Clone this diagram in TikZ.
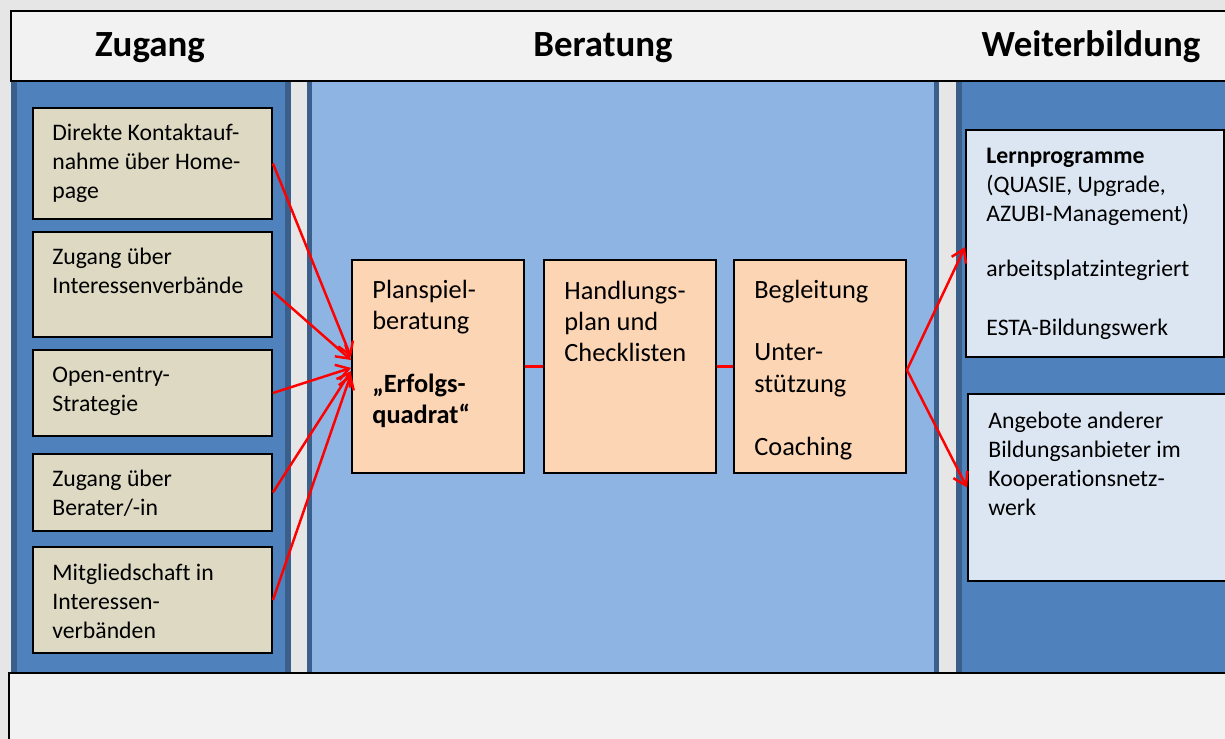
\documentclass[tikz,border=0pt]{standalone}
\usepackage{fontspec}
\setmainfont{Carlito}[Ligatures=NoCommon]
\usetikzlibrary{arrows.meta,fit,calc}
\definecolor{texgrey}{HTML}{E6E6E6}
\definecolor{headgrey}{HTML}{F2F2F2}
\definecolor{darkcol}{HTML}{4F81BD}
\definecolor{lightcol}{HTML}{8EB4E3}
\definecolor{colline}{HTML}{3A5F8B}
\definecolor{zugbox}{HTML}{DDD9C3}
\definecolor{berbox}{HTML}{FCD5B5}
\definecolor{weibox}{HTML}{DCE6F2}

\begin{document}
\begin{tikzpicture}[x=0.02cm, y=-0.02cm,
  colbar/.style={draw=colline, line width=0.11cm},
  headbar/.style={fill=headgrey, draw=black, line width=1.1pt},
  zbox/.style={draw=black, line width=1.1pt, fill=zugbox, inner sep=0pt},
  bbox/.style={draw=black, line width=1.1pt, fill=berbox, inner sep=0pt},
  wbox/.style={draw=black, line width=1.1pt, fill=weibox, inner sep=0pt},
  ztext/.style={anchor=base west, inner sep=0pt, text width=4.7cm, align=flush left, font=\fontsize{13.5}{16.6}\selectfont},
  btext/.style={anchor=base west, inner sep=0pt, text width=3.1cm, align=flush left, font=\fontsize{15}{17.9}\selectfont},
  headtext/.style={anchor=base, inner sep=0pt, font=\fontsize{21}{25}\selectfont\bfseries},
  link/.style={draw=red, line width=1.4pt, -{Straight Barb[length=7pt,width=9pt]}}]
\useasboundingbox (0,0) rectangle (1225,739);
\clip (0,0) rectangle (1225,739);
\fill[texgrey] (0,0) rectangle (1225,739);
\filldraw[fill=darkcol, colbar] (14,76) rectangle (288,680);
\filldraw[fill=lightcol, colbar] (309.5,76) rectangle (936.3,680);
\filldraw[fill=darkcol, colbar] (959,76) rectangle (1250,680);
\filldraw[headbar] (11,11) rectangle (1250,81);
\filldraw[headbar] (9,673) rectangle (1250,770);
\node[headtext] (hzug) at (150,57) {Zugang};
\node[headtext] (hber) at (603,57) {Beratung};
\node[headtext] (hwei) at (1091,57) {Weiterbildung};

\node[zbox, fit={(33,108) (272,219)}] (direkt) {};
\node[zbox, fit={(33,232) (272,337)}] (verband) {};
\node[zbox, fit={(33,350) (272,436)}] (openentry) {};
\node[zbox, fit={(33,454) (272,531)}] (berater) {};
\node[zbox, fit={(33,547) (272,653)}] (mitglied) {};
\node[ztext] (direktt) at ($(direkt.north west)+(20,33)$) {Direkte Kontaktauf-\\nahme über Home-\\page};
\node[ztext] (verbandt) at ($(verband.north west)+(20,33)$) {Zugang über\\Interessenverbände};
\node[ztext] (openentryt) at ($(openentry.north west)+(20,33)$) {Open-entry-\\Strategie};
\node[ztext] (beratert) at ($(berater.north west)+(20,33)$) {Zugang über\\Berater/-in};
\node[ztext] (mitgliedt) at ($(mitglied.north west)+(20,34)$) {Mitgliedschaft in\\Interessen-\\verbänden};

\node[bbox, fit={(352,260) (524,473)}] (plan) {};
\node[bbox, fit={(544,260) (716,473)}] (hand) {};
\node[bbox, fit={(734,260) (906,473)}] (begl) {};
\node[btext] (plant) at ($(plan.north west)+(21,39)$) {Planspiel-\\beratung\\[17.9pt]\textbf{„Erfolgs-}\\\textbf{quadrat“}};
\node[btext] (handt) at ($(hand.north west)+(21,40)$) {Handlungs-\\plan und\\Checklisten};
\node[btext] (beglt) at ($(begl.north west)+(21,39)$) {Begleitung\\[17.9pt]Unter-\\stützung\\[17.9pt]Coaching};

\node[wbox, fit={(966,130) (1224,357)}] (lern) {};
\node[wbox, fit={(968,394) (1228,581)}] (angeb) {};
\node[ztext] (lernt) at ($(lern.north west)+(21,34)$) {\textbf{Lernprogramme}\\(QUASIE, Upgrade,\\AZUBI-Management)\\[14.7pt]arbeitsplatzintegriert\\[17pt]ESTA-Bildungswerk};
\node[ztext] (angebt) at ($(angeb.north west)+(21,35)$) {Angebote anderer\\Bildungsanbieter im\\Kooperationsnetz-\\werk};

\draw[link] (direkt.east) -- ([yshift=5.4pt]plan.west);
\draw[link] ([yshift=-4pt]verband.east) -- ([yshift=3.7pt]plan.west);
\draw[link] (openentry.east) -- ([yshift=-0.8pt]plan.west);
\draw[link] (berater.east) -- ([yshift=-2.6pt]plan.west);
\draw[link] (mitglied.east) -- ([yshift=-4.3pt]plan.west);
\draw[draw=red, line width=1.3pt] (plan.east) -- (hand.west);
\draw[draw=red, line width=1.3pt] (hand.east) -- (begl.west);
\draw[link] ([yshift=-2pt]begl.east) -- ([yshift=-2pt]lern.west);
\draw[link] ([yshift=-2pt]begl.east) -- (angeb.west);
\end{tikzpicture}
\end{document}
